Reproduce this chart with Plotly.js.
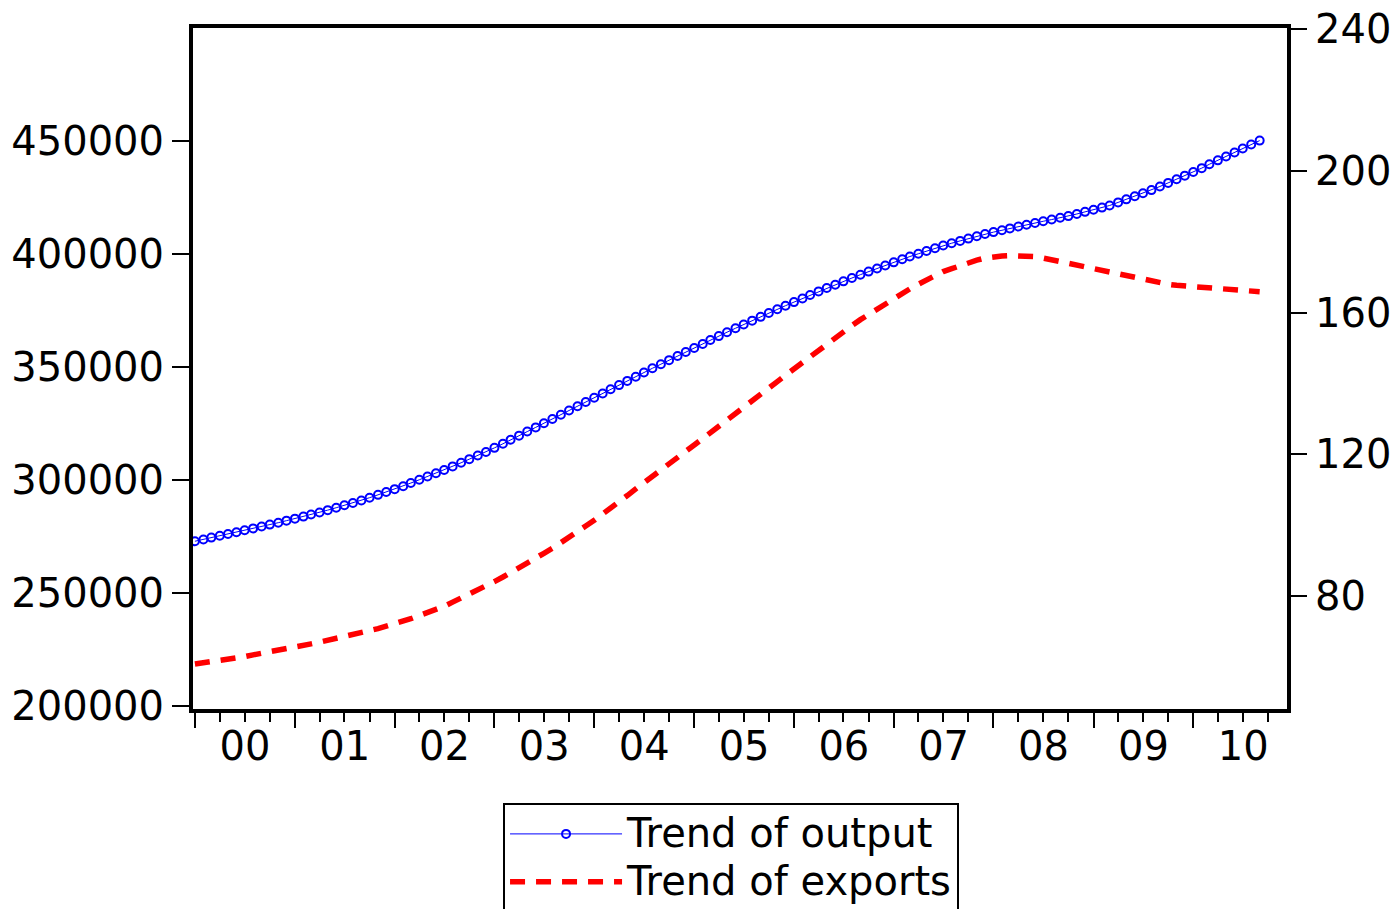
<!DOCTYPE html>
<html>
<head>
<meta charset="utf-8">
<script src="https://cdn.plot.ly/plotly-3.0.1.min.js"></script>
<style>
  html, body { margin: 0; padding: 0; background: #fff; }
  #trendChart { width: 1400px; height: 909px; }
</style>
</head>
<body>
<div id="trendChart"></div>

<script>
    // Monthly HP trends, 2000M01 - 2010M09
    var startYear = 2000;

    var trendOutput = [
        273000, 273800, 274600, 275400, 276200, 277000,
        277840, 278680, 279520, 280360, 281200,
        282100, 283000, 283900, 284800, 285700,
        286760, 287820, 288880, 289940, 291000,
        292260, 293520, 294780, 296040, 297300,
        298740, 300180, 301620, 303060, 304500,
        306100, 307700, 309300, 310900, 312500,
        314300, 316100, 317900, 319700, 321500,
        323360, 325220, 327080, 328940, 330800,
        332680, 334560, 336440, 338320, 340200,
        342060, 343920, 345780, 347640, 349500,
        351300, 353100, 354900, 356700, 358500,
        360240, 361980, 363720, 365460, 367200,
        368880, 370560, 372240, 373920, 375600,
        377180, 378760, 380340, 381920, 383500,
        384980, 386460, 387940, 389420, 390900,
        392260, 393620, 394980, 396340, 397700,
        398920, 400140, 401360, 402580, 403800,
        404820, 405840, 406860, 407880, 408900,
        409720, 410540, 411360, 412180, 413000,
        413760, 414520, 415280, 416040, 416800,
        417740, 418680, 419620, 420560, 421500,
        422860, 424220, 425580, 426940, 428300,
        429900, 431500, 433100, 434700, 436300,
        438020, 439740, 441460, 443180, 444900,
        446670, 448440, 450200
    ];

    var trendExports = [
        60.7, 61.0, 61.4, 61.7, 62.1, 62.4,
        62.8, 63.3, 63.7, 64.2, 64.6,
        65.1, 65.5, 66.0, 66.4, 66.9,
        67.4, 67.9, 68.4, 69.0, 69.5,
        70.1, 70.7, 71.4, 72.0, 72.6,
        73.5, 74.4, 75.2, 76.1, 77.0,
        78.2, 79.3, 80.5, 81.6, 82.8,
        84.0, 85.3, 86.5, 87.8, 89.0,
        90.5, 92.0, 93.4, 94.9, 96.4,
        98.0, 99.7, 101.3, 103.0, 104.6,
        106.5, 108.3, 110.2, 112.0, 113.9,
        115.6, 117.4, 119.1, 120.9, 122.6,
        124.4, 126.1, 127.9, 129.6, 131.4,
        133.2, 135.0, 136.9, 138.7, 140.5,
        142.3, 144.1, 146.0, 147.8, 149.6,
        151.3, 153.0, 154.6, 156.3, 158.0,
        159.5, 161.0, 162.5, 164.0, 165.5,
        166.7, 168.0, 169.2, 170.4, 171.6,
        172.4, 173.3, 174.1, 174.8, 175.4,
        175.8, 176.0, 176.1, 176.1, 176.0,
        175.8, 175.4, 174.9, 174.3, 173.8,
        173.3, 172.8, 172.2, 171.7, 171.2,
        170.7, 170.2, 169.8, 169.3, 168.8,
        168.4, 168.0, 167.7, 167.5, 167.3,
        167.1, 167.0, 166.8, 166.7, 166.5,
        166.3, 166.1, 165.9
    ];

    var leftTicks = [200000, 250000, 300000, 350000, 400000, 450000];
    var rightTicks = [80, 120, 160, 200, 240];
    var seriesNames = ['Trend of output', 'Trend of exports'];

    // one date per observation, first of each month
    var months = trendOutput.map(function(_, i) {
        var y = startYear + Math.floor(i / 12);
        var m = (i % 12) + 1;
        return y + '-' + (m < 10 ? '0' + m : m) + '-01';
    });

    var font = { family: 'DejaVu Sans, Arial, sans-serif', size: 40, color: '#000' };
    // legend rows are tighter than the text size, so the row height comes
    // from a smaller legend font and the names are sized up in a span
    var legendFont = { family: font.family, size: 34.5, color: '#000' };
    function bigName(s) { return '<span style="font-size:40px">' + s + '</span>'; }

    var outputTrace = {
        x: months,
        y: trendOutput,
        name: bigName(seriesNames[0]),
        type: 'scatter',
        mode: 'lines+markers',
        line: { color: '#0000ff', width: 1 },
        marker: { symbol: 'circle-open', size: 8, color: '#0000ff', line: { width: 2 } },
        yaxis: 'y'
    };

    var exportsTrace = {
        x: months,
        y: trendExports,
        name: bigName(seriesNames[1]),
        type: 'scatter',
        mode: 'lines',
        line: { color: '#ff0000', width: 5.5, dash: '15px,11px' },
        yaxis: 'y2'
    };

    var layout = {
        width: 1400,
        height: 909,
        margin: { l: 193, r: 113, t: 28, b: 200, autoexpand: false },
        font: font,
        showlegend: true,
        paper_bgcolor: '#fff',
        plot_bgcolor: '#fff',
        xaxis: {
            type: 'date',
            range: ['1999-12-25', '2010-12-10'],
            tick0: '2000-01-01',
            dtick: 'M12',
            ticklabelmode: 'period',
            tickformat: '%y',
            ticks: 'outside',
            ticklen: 15,
            tickwidth: 2,
            tickcolor: '#000',
            ticklabelstandoff: -16,
            showgrid: false,
            zeroline: false,
            showline: true,
            linewidth: 4,
            linecolor: '#000',
            mirror: true,
            tickfont: font,
            minor: { dtick: 'M3', ticks: 'outside', ticklen: 9, tickwidth: 2, tickcolor: '#000', showgrid: false }
        },
        yaxis: {
            range: [198800, 500000],
            tickvals: leftTicks,
            ticktext: leftTicks.map(String),
            ticks: 'outside',
            ticklen: 17,
            tickwidth: 1.5,
            tickcolor: '#000',
            ticklabelstandoff: 0,
            showgrid: false,
            zeroline: false,
            showline: true,
            linewidth: 4,
            linecolor: '#000',
            mirror: true,
            tickfont: font
        },
        yaxis2: {
            overlaying: 'y',
            side: 'right',
            range: [48, 240.4],
            tickvals: rightTicks,
            ticktext: rightTicks.map(String),
            ticks: 'outside',
            ticklen: 16,
            tickwidth: 1.5,
            tickcolor: '#000',
            ticklabelstandoff: 0,
            showgrid: false,
            zeroline: false,
            showline: true,
            linewidth: 4,
            linecolor: '#000',
            tickfont: font
        },
        legend: {
            x: 0.2834,
            y: -0.138,
            xanchor: 'left',
            yanchor: 'top',
            bgcolor: '#fff',
            bordercolor: '#000',
            borderwidth: 2,
            font: legendFont,
            itemwidth: 112,
            tracegroupgap: 0
        }
    };

    var config = { displayModeBar: false, responsive: false };

    Plotly.newPlot('trendChart', [outputTrace, exportsTrace], layout, config);
</script>
</body>
</html>
